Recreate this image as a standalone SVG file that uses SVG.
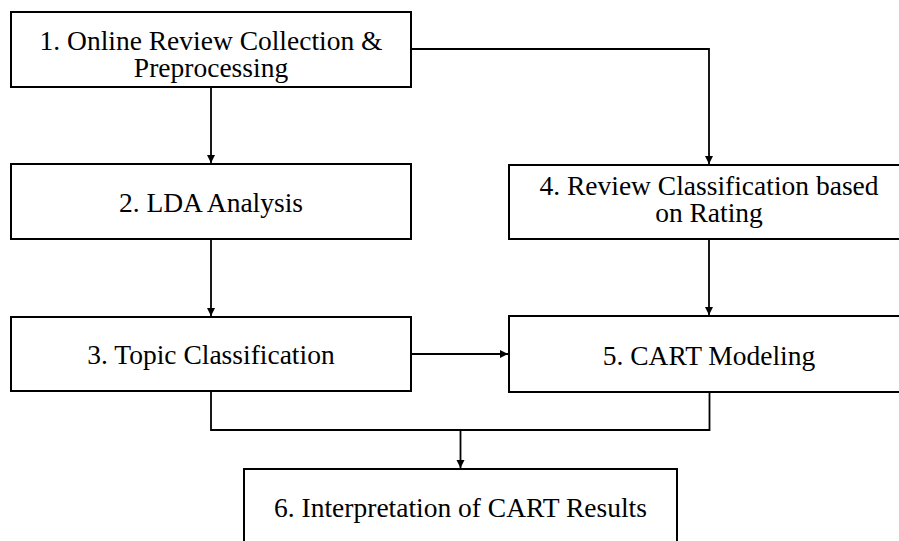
<svg xmlns="http://www.w3.org/2000/svg" width="899" height="541" viewBox="0 0 899 541">
<style>
.box{fill:#fff;stroke:#000;stroke-width:2}
.lbl{font-family:'Liberation Serif','DejaVu Serif',serif;font-size:27.5px;fill:#000;text-anchor:middle}
.con{fill:none;stroke:#000;stroke-width:1.8}
</style>
<defs>
<marker id="ah" markerUnits="userSpaceOnUse" markerWidth="10" markerHeight="10" refX="8" refY="4" orient="auto">
<path d="M0,0 L8,4 L0,8 z" fill="#000"/>
</marker>
</defs>
<rect width="899" height="541" fill="#fff"/>
<g id="connectors">
<path class="con" d="M211,87 V163" marker-end="url(#ah)"/>
<path class="con" d="M411,49 H709 V164" marker-end="url(#ah)"/>
<path class="con" d="M211,239 V316" marker-end="url(#ah)"/>
<path class="con" d="M709,239 V315" marker-end="url(#ah)"/>
<path class="con" d="M411,354 H508" marker-end="url(#ah)"/>
<path class="con" d="M211,391 V430 H709.5 V392"/>
<path class="con" d="M460.5,430 V468" marker-end="url(#ah)"/>
</g>
<g id="node1">
<rect class="box" x="11" y="12" width="400" height="75"/>
<text class="lbl" font-family="Liberation Serif" x="211" y="50">1. Online Review Collection &amp;</text>
<text class="lbl" font-family="Liberation Serif" x="211" y="77">Preprocessing</text>
</g>
<g id="node2">
<rect class="box" x="11" y="164" width="400" height="75"/>
<text class="lbl" font-family="Liberation Serif" x="211" y="212">2. LDA Analysis</text>
</g>
<g id="node3">
<rect class="box" x="11" y="317" width="400" height="74"/>
<text class="lbl" font-family="Liberation Serif" x="211" y="364">3. Topic Classification</text>
</g>
<g id="node4">
<rect class="box" x="509" y="165" width="400" height="74"/>
<text class="lbl" font-family="Liberation Serif" x="709" y="195">4. Review Classification based</text>
<text class="lbl" font-family="Liberation Serif" x="709" y="222">on Rating</text>
</g>
<g id="node5">
<rect class="box" x="509" y="316" width="400" height="76"/>
<text class="lbl" font-family="Liberation Serif" x="709" y="365">5. CART Modeling</text>
</g>
<g id="node6">
<rect class="box" x="244" y="469" width="433" height="100"/>
<text class="lbl" font-family="Liberation Serif" x="460.5" y="517">6. Interpretation of CART Results</text>
</g>
</svg>
